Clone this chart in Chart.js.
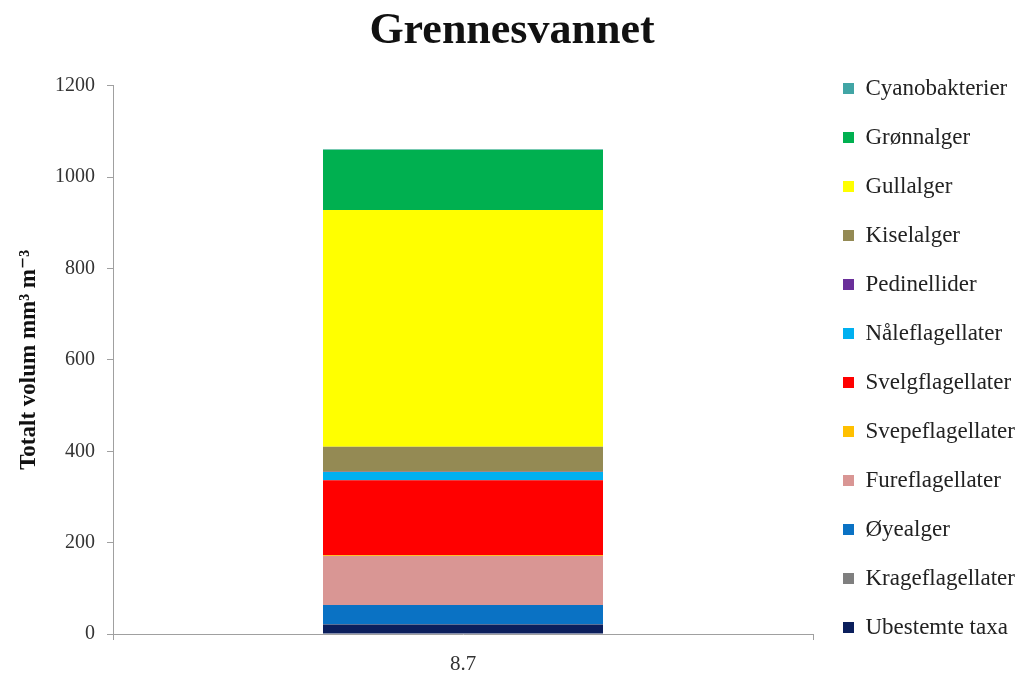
<!DOCTYPE html>
<html>
<head>
<meta charset="utf-8">
<script src="https://cdn.jsdelivr.net/npm/chart.js@4/dist/chart.umd.min.js"></script>
<style>
html,body{margin:0;padding:0;background:#fff;}
#wrap{width:1024px;height:678px;}
</style>
</head>
<body>
<div id="wrap"><canvas id="c" width="1024" height="678"></canvas></div>
<script>
const categories = ["8.7"];
const seriesNames = ["Ubestemte taxa","Krageflagellater","Øyealger","Fureflagellater","Svepeflagellater","Svelgflagellater","Nåleflagellater","Pedinellider","Kiselalger","Gullalger","Grønnalger","Cyanobakterier"];
const ubestemte = [21];
const krage = [0.5];
const oyealger = [42];
const fure = [107];
const svepe = [2];
const svelg = [164];
const naale = [18];
const pedinellider = [0.5];
const kisel = [55];
const gull = [518];
const gronn = [132];
const cyano = [1];
const yTicks = [0,200,400,600,800,1000,1200];

const seriesValues = [ubestemte,krage,oyealger,fure,svepe,svelg,naale,pedinellider,kisel,gull,gronn,cyano];
const colors = ["#0b1f5c","#7f7f7f","#0a72c4","#d99694","#ffc000","#ff0000","#00b0f0","#6a2f9a","#948a54","#ffff00","#00b050","#41a5a5"];

const FONT = "'Liberation Serif', 'DejaVu Serif', serif";

const legendTweak = {
  id: 'legendTweak',
  beforeLayout(chart) {
    const lg = chart.legend;
    if (lg && !lg._patched) {
      const orig = lg.fit;
      lg.fit = function() {
        const mh = this.maxHeight;
        this.maxHeight = 5000;
        orig.call(this);
        this.maxHeight = mh;
        this.width = 211;
        this.height = mh;
      };
      lg._patched = true;
    }
  },
  afterLayout(chart) {
    const lg = chart.legend;
    if (lg) { lg.top += 38; lg.left += 4; lg.right += 4; }
  }
};

new Chart(document.getElementById('c'), {
  type: 'bar',
  data: {
    labels: categories,
    datasets: seriesNames.map((n,i)=>({
      label: n,
      data: seriesValues[i],
      backgroundColor: colors[i],
      borderWidth: 0,
      categoryPercentage: 0.4,
      barPercentage: 1.0
    }))
  },
  plugins: [legendTweak],
  options: {
    responsive: false,
    animation: false,
    layout: {padding: {left: 0, right: 0, top: 0, bottom: 0}},
    plugins: {
      title: {
        display: true,
        text: 'Grennesvannet',
        color: '#111',
        font: {family: FONT, size: 44, weight: 'bold'},
        padding: {top: 5, bottom: 28}
      },
      legend: {
        position: 'right',
        reverse: true,
        labels: {
          boxWidth: 11,
          boxHeight: 11,
          padding: 26,
          color: '#222',
          font: {family: FONT, size: 23}
        }
      },
      tooltip: {enabled: false}
    },
    scales: {
      x: {
        stacked: true,
        afterFit: (s) => { s.height = 44; },
        grid: {drawOnChartArea: false, drawTicks: true, tickLength: 6, color: '#a0a0a0'},
        border: {color: '#a0a0a0'},
        ticks: {color: '#333', font: {family: FONT, size: 21}, padding: 12}
      },
      y: {
        stacked: true,
        min: 0,
        max: 1200,
        afterFit: (s) => { s.width = 113; },
        afterBuildTicks: (ax) => { ax.ticks = yTicks.map(v=>({value:v})); },
        grid: {drawOnChartArea: false, drawTicks: true, tickLength: 6, color: '#a0a0a0'},
        border: {color: '#a0a0a0'},
        ticks: {color: '#333', font: {family: FONT, size: 20}, padding: 12, callback: (v)=>String(v)},
        title: {
          display: true,
          text: 'Totalt volum mm³ m⁻³',
          color: '#111',
          font: {family: FONT, size: 23, weight: 'bold'},
          padding: {top: 15, bottom: 0}
        }
      }
    }
  }
});
</script>
</body>
</html>
